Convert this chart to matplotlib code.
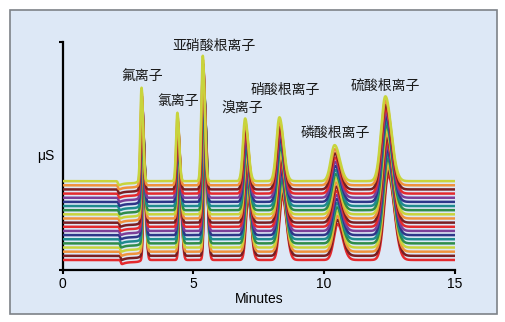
import numpy as np
import matplotlib
matplotlib.use("Agg")
import matplotlib.pyplot as plt
from matplotlib.patches import Rectangle

ion_names = ["氟离子", "氯离子", "亚硝酸根离子", "溴离子", "硝酸根离子", "磷酸根离子", "硫酸根离子"]
retention_min = [3.02, 4.39, 5.36, 6.98, 8.29, 10.40, 12.34]
peak_height = [0.41, 0.30, 0.55, 0.275, 0.28, 0.158, 0.372]
peak_sigma = [0.045, 0.05, 0.055, 0.085, 0.115, 0.145, 0.165]
tail_factor = 1.35

# label anchor points (minutes, axis units)
label_x = [3.04, 4.41, 5.79, 6.86, 8.50, 10.41, 12.32]
label_y = [0.846, 0.741, 0.982, 0.711, 0.789, 0.601, 0.807]

# water dip near 2.1 min
dip_time = 2.12
dip_depth = 0.013
dip_plateau = 0.009
dip_end = 2.85

# 20 injections, listed bottom to top
n_runs = 20
baseline_bottom = 0.044
baseline_step = 0.0182
shift_per_run = 0.006
run_colors = ["#e42a2e", "#7a1e22", "#f0923c", "#c8d43c",
              "#2f8c4a", "#1e8a8e", "#2e3789", "#7b3f98"]

x_ticks = [0, 5, 10, 15]

plt.rcParams["font.family"] = ["Liberation Sans", "DejaVu Sans"]

t = np.linspace(0, 15, 3000)


def trace(shift):
    y = np.zeros_like(t)
    for rt, h, s in zip(retention_min, peak_height, peak_sigma):
        c = rt + shift
        sig = np.where(t < c, s, s * tail_factor)
        y += h * np.exp(-0.5 * ((t - c) / sig) ** 2)
    td = dip_time + shift
    onset = 1 / (1 + np.exp(-(t - td) / 0.015))
    close = 1 / (1 + np.exp(-(t - dip_end - shift) / 0.05))
    y -= onset * (1 - close) * (dip_depth * np.exp(-np.clip(t - td, 0, None) / 0.15) + dip_plateau)
    return y


fig = plt.figure(figsize=(5.05, 3.22), dpi=100, facecolor="white")
panel = Rectangle((10 / 505, 1 - 314 / 322), 487 / 505, 304 / 322,
                  transform=fig.transFigure, facecolor="#dde8f6",
                  edgecolor="#7d8288", linewidth=1.2, zorder=-10)
fig.add_artist(panel)

ax = fig.add_axes([62.5 / 505, 1 - 270 / 322, 392.5 / 505, 228 / 322])
ax.set_zorder(5)
ax.set_facecolor("none")

for i in range(n_runs):
    shift = (n_runs - 1 - i) * shift_per_run
    y = trace(shift) + baseline_bottom + i * baseline_step
    ax.plot(t, y, color=run_colors[i % len(run_colors)], linewidth=1.8, zorder=3 + i)

for name, lx, ly in zip(ion_names, label_x, label_y):
    ax.text(lx, ly, name, ha="center", va="center", fontsize=10, color="#1a1a1a",
            family=["Noto Sans CJK SC", "DejaVu Sans"], zorder=50)

ax.set_xlim(0, 15)
ax.set_ylim(0, 1)
ax.set_xticks(x_ticks)
ax.set_yticks([0, 1])
ax.set_yticklabels([])
ax.tick_params(axis="both", direction="out", length=3, width=1.5, labelsize=10, pad=2)
for side in ["top", "right"]:
    ax.spines[side].set_visible(False)
for side in ["left", "bottom"]:
    ax.spines[side].set_linewidth(1.6)
ax.set_xlabel("Minutes", fontsize=10, labelpad=1)
ax.text(-0.042, 0.5, "μS", transform=ax.transAxes, ha="center", va="center", fontsize=10)

fig.savefig("out.png", dpi=100, facecolor="white")
